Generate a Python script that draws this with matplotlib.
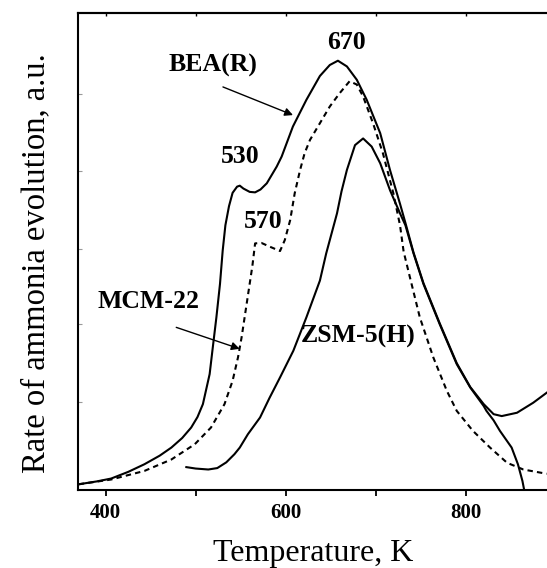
import numpy as np
import matplotlib
matplotlib.use("Agg")
import matplotlib.pyplot as plt

plt.rcParams['font.family'] = ['Liberation Serif', 'DejaVu Serif']

# BEA(R), solid
bea_T = [370, 390, 406, 425, 443, 460, 473, 485, 495, 502, 508, 515.5, 519, 523, 527, 530, 533, 537,
         541, 546, 549, 553, 560, 566, 572, 579, 590, 595.5, 608, 623, 638, 649, 658, 668, 679,
         690, 705, 716, 727, 733, 742, 753, 771, 790, 805, 820, 831, 840, 857, 875, 890]
bea_v = [1.2, 1.8, 2.4, 3.8, 5.4, 7.2, 8.9, 10.9, 13.1, 15.3, 18, 24.3, 29.9, 36.2, 43.2, 50.2, 55.5, 59.5,
         62.3, 63.6, 63.8, 63.2, 62.5, 62.4, 63.0, 64.3, 67.8, 69.9, 76.2, 81.8, 86.8, 89.1, 90.0, 88.8, 86.0,
         81.8, 74.8, 67.0, 60.0, 56.0, 49.8, 43.4, 35.0, 26.6, 21.6, 18.0, 15.9, 15.5, 16.2, 18.3, 20.4]

# ZSM-5(H), solid
zsm_T = [489.6, 500, 514, 524, 534, 543, 549, 558, 571.5, 582, 593.7, 608.5, 623, 638, 645, 651,
         657, 662, 668, 677, 686, 695.5, 705, 716, 727, 733, 742, 753, 771, 790, 805, 820, 823, 831,
         838, 851, 858, 863, 866]
zsm_v = [4.8, 4.5, 4.3, 4.6, 5.8, 7.5, 8.9, 11.7, 15.2, 19.3, 23.6, 29.2, 36.2, 43.9, 49.6, 53.8,
         58.0, 62.6, 67.1, 72.3, 73.7, 72.0, 68.5, 62.8, 58.0, 55.5, 49.6, 43.2, 34.8, 26.4, 21.5, 17.6, 16.6, 14.6,
         12.4, 8.9, 5.4, 1.9, -1.0]

# MCM-22, dashed
mcm_T = [370, 406, 443, 473, 499, 517, 532, 541, 547, 551, 555, 559, 563, 566, 573, 582.5,
         593.7, 599, 605, 610, 616, 621, 627, 638, 649, 660, 671, 679, 686, 697, 708, 719.6,
         727, 731, 738, 749, 764, 779, 790, 808, 827, 846, 864, 890]
mcm_v = [1.2, 2.2, 4.0, 6.4, 9.6, 13.1, 18.0, 22.9, 27.8, 32.0, 37.0, 42.0, 47.0, 51.7, 51.8, 51.0,
         50.1, 52.4, 56.6, 62.2, 67.1, 70.6, 73.4, 76.9, 80.4, 83.2, 85.7, 85.0, 82.5, 76.9, 70.6, 62.2,
         55.5, 50.0, 44.6, 36.2, 27.8, 20.8, 16.6, 12.4, 8.9, 5.7, 4.3, 3.4]

x_ticks = [400, 600, 800]
x_minor = [500, 700]
y_minor = [18.5, 34.7, 50.6, 66.8, 83.0]

fig = plt.figure(figsize=(5.47, 5.68), dpi=100)
ax = fig.add_axes([0.1435, 0.1373, 0.8565, 0.8398])

ax.plot(bea_T, bea_v, color="black", lw=1.5)
ax.plot(zsm_T, zsm_v, color="black", lw=1.5)
ax.plot(mcm_T, mcm_v, color="black", lw=1.5, linestyle=(0, (2.6, 2.0)))

ax.set_xlim(369.8, 890.3)
ax.set_ylim(0, 100)

ax.spines['right'].set_visible(False)
for s in ['left', 'bottom', 'top']:
    ax.spines[s].set_linewidth(1.5)

ax.set_xticks(x_ticks)
ax.set_xticks(x_minor, minor=True)
ax.set_xticklabels([str(t) for t in x_ticks], fontweight="bold", fontsize=15)
ax.tick_params(axis='x', which='both', direction='out', length=4, width=1.3, pad=5)
ax.set_yticks([])
ax.set_yticks(y_minor, minor=True)
ax.tick_params(axis='y', which='minor', direction='in', length=3, width=0.8, color="0.6")

top = ax.secondary_xaxis('top')
top.set_xticks(x_ticks + x_minor)
top.tick_params(direction='in', length=2.5, width=1.0, labeltop=False)
top.spines['top'].set_linewidth(1.5)

ax.set_xlabel("Temperature, K", fontsize=23, labelpad=12)
ax.set_ylabel("Rate of ammonia evolution, a.u.", fontsize=23.5)
ax.yaxis.set_label_coords(-0.058, 0.475)

lab = dict(fontsize=18.5, fontweight="bold", ha="center", va="center")
ax.text(668, 93.9, "670", **lab)
ax.text(549, 70.0, "530", **lab)
ax.text(575, 56.3, "570", **lab)
ax.text(519, 89.0, "BEA(R)", **lab)
ax.text(448, 39.5, "MCM-22", **lab)
ax.text(680, 32.2, "ZSM-5(H)", **lab)

arr = dict(arrowstyle="-|>", color="black", lw=1.0, mutation_scale=12, shrinkA=0, shrinkB=0)
ax.annotate("", xy=(608.1, 78.6), xytext=(530.3, 84.5), arrowprops=arr)
ax.annotate("", xy=(548.9, 29.6), xytext=(478.4, 34.1), arrowprops=arr)

fig.savefig("out.png", dpi=100)
